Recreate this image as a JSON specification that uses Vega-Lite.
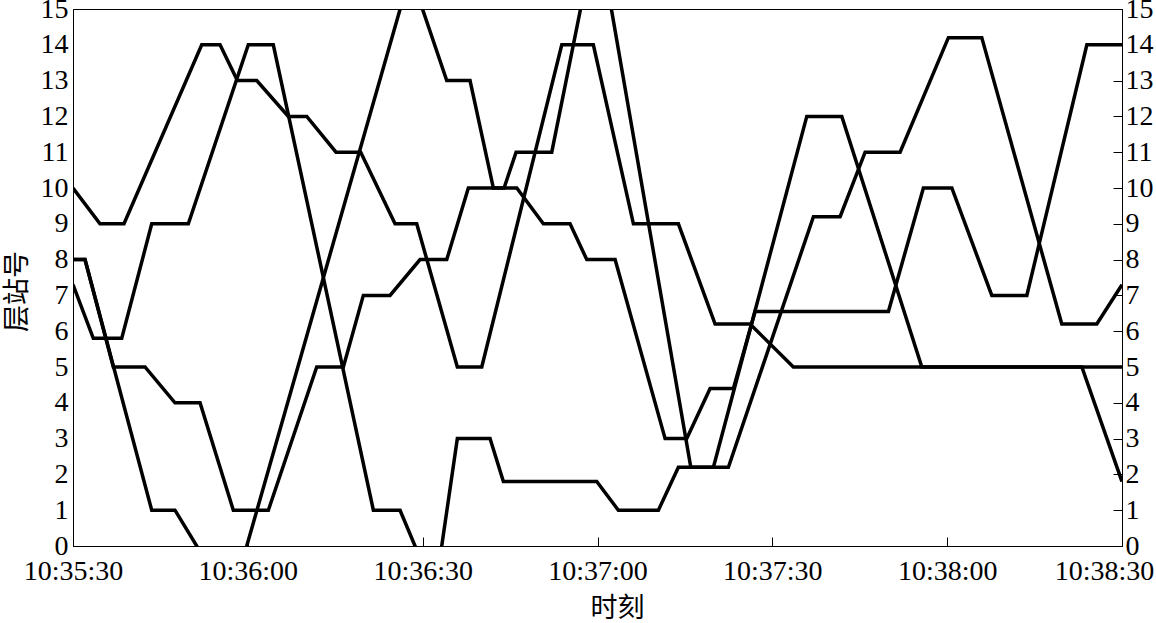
{
  "$schema": "https://vega.github.io/schema/vega-lite/v6.json",
  "width": 1049,
  "height": 537,
  "autosize": {"type": "none"},
  "padding": {"left": 73, "top": 9, "right": 34, "bottom": 77},
  "background": "white",
  "config": {
    "view": {"stroke": "black", "strokeWidth": 1},
    "axis": {
      "domainColor": "black",
      "tickColor": "black",
      "labelColor": "black",
      "titleColor": "black",
      "labelFont": "Liberation Serif",
      "labelFontSize": 28,
      "titleFont": "Noto Sans CJK SC",
      "titleFontSize": 27,
      "titleFontWeight": "normal",
      "grid": false,
      "labelOverlap": false,
      "labelBound": false,
      "labelFlush": false
    }
  },
  "data": {
    "values": [
      {"car": "A", "t": 0, "floor": 10},
      {"car": "A", "t": 4.63, "floor": 9},
      {"car": "A", "t": 8.75, "floor": 9},
      {"car": "A", "t": 22.09, "floor": 14},
      {"car": "A", "t": 25.23, "floor": 14},
      {"car": "A", "t": 28.2, "floor": 13},
      {"car": "A", "t": 31.53, "floor": 13},
      {"car": "A", "t": 36.95, "floor": 12},
      {"car": "A", "t": 40.11, "floor": 12},
      {"car": "A", "t": 45.13, "floor": 11},
      {"car": "A", "t": 49.37, "floor": 11},
      {"car": "A", "t": 55.26, "floor": 9},
      {"car": "A", "t": 58.98, "floor": 9},
      {"car": "A", "t": 65.95, "floor": 5},
      {"car": "A", "t": 70.14, "floor": 5},
      {"car": "A", "t": 83.87, "floor": 14},
      {"car": "A", "t": 89.29, "floor": 14},
      {"car": "A", "t": 96.16, "floor": 9},
      {"car": "A", "t": 103.88, "floor": 9},
      {"car": "A", "t": 110.18, "floor": 6.2},
      {"car": "A", "t": 116.18, "floor": 6.2},
      {"car": "A", "t": 123.61, "floor": 5},
      {"car": "A", "t": 173.11, "floor": 5},
      {"car": "A", "t": 180, "floor": 1.8},
      {"car": "B", "t": 0, "floor": 8},
      {"car": "B", "t": 2.06, "floor": 8},
      {"car": "B", "t": 6.92, "floor": 5},
      {"car": "B", "t": 12.36, "floor": 5},
      {"car": "B", "t": 17.5, "floor": 4},
      {"car": "B", "t": 21.8, "floor": 4},
      {"car": "B", "t": 27.51, "floor": 1},
      {"car": "B", "t": 33.52, "floor": 1},
      {"car": "B", "t": 41.82, "floor": 5},
      {"car": "B", "t": 46.39, "floor": 5},
      {"car": "B", "t": 49.82, "floor": 7},
      {"car": "B", "t": 54.4, "floor": 7},
      {"car": "B", "t": 59.55, "floor": 8},
      {"car": "B", "t": 64.13, "floor": 8},
      {"car": "B", "t": 67.84, "floor": 10},
      {"car": "B", "t": 73.97, "floor": 10},
      {"car": "B", "t": 76.03, "floor": 11},
      {"car": "B", "t": 82.15, "floor": 11},
      {"car": "B", "t": 89.93, "floor": 17.3},
      {"car": "B", "t": 106.01, "floor": 2.2},
      {"car": "B", "t": 112.46, "floor": 2.2},
      {"car": "B", "t": 127.05, "floor": 9.2},
      {"car": "B", "t": 131.63, "floor": 9.2},
      {"car": "B", "t": 135.92, "floor": 11},
      {"car": "B", "t": 141.92, "floor": 11},
      {"car": "B", "t": 150.21, "floor": 14.2},
      {"car": "B", "t": 155.94, "floor": 14.2},
      {"car": "B", "t": 169.67, "floor": 6.2},
      {"car": "B", "t": 175.68, "floor": 6.2},
      {"car": "B", "t": 180, "floor": 7.3},
      {"car": "C", "t": 0, "floor": 7.3},
      {"car": "C", "t": 3.48, "floor": 5.8},
      {"car": "C", "t": 8.36, "floor": 5.8},
      {"car": "C", "t": 13.51, "floor": 9},
      {"car": "C", "t": 19.79, "floor": 9},
      {"car": "C", "t": 30.08, "floor": 14},
      {"car": "C", "t": 34.37, "floor": 14},
      {"car": "C", "t": 51.54, "floor": 1},
      {"car": "C", "t": 56.12, "floor": 1},
      {"car": "C", "t": 58.69, "floor": 0},
      {"car": "C", "t": 61.22, "floor": -1},
      {"car": "C", "t": 62.4, "floor": -1},
      {"car": "C", "t": 63.27, "floor": 0},
      {"car": "C", "t": 65.95, "floor": 3},
      {"car": "C", "t": 71.56, "floor": 3},
      {"car": "C", "t": 73.85, "floor": 1.8},
      {"car": "C", "t": 89.87, "floor": 1.8},
      {"car": "C", "t": 93.58, "floor": 1},
      {"car": "C", "t": 100.45, "floor": 1},
      {"car": "C", "t": 103.88, "floor": 2.2},
      {"car": "C", "t": 109.89, "floor": 2.2},
      {"car": "C", "t": 125.91, "floor": 12},
      {"car": "C", "t": 131.92, "floor": 12},
      {"car": "C", "t": 145.65, "floor": 5},
      {"car": "C", "t": 180, "floor": 5},
      {"car": "D", "t": 0, "floor": 8},
      {"car": "D", "t": 2.06, "floor": 8},
      {"car": "D", "t": 13.51, "floor": 1},
      {"car": "D", "t": 17.5, "floor": 1},
      {"car": "D", "t": 21.23, "floor": 0},
      {"car": "D", "t": 24.88, "floor": -1},
      {"car": "D", "t": 28.06, "floor": -1},
      {"car": "D", "t": 29.81, "floor": 0},
      {"car": "D", "t": 57.89, "floor": 16},
      {"car": "D", "t": 64.13, "floor": 13},
      {"car": "D", "t": 68.13, "floor": 13},
      {"car": "D", "t": 72.13, "floor": 10},
      {"car": "D", "t": 76.15, "floor": 10},
      {"car": "D", "t": 80.71, "floor": 9},
      {"car": "D", "t": 85.29, "floor": 9},
      {"car": "D", "t": 88.16, "floor": 8},
      {"car": "D", "t": 93.02, "floor": 8},
      {"car": "D", "t": 101.6, "floor": 3},
      {"car": "D", "t": 105.32, "floor": 3},
      {"car": "D", "t": 109.32, "floor": 4.4},
      {"car": "D", "t": 113.32, "floor": 4.4},
      {"car": "D", "t": 117.04, "floor": 6.55},
      {"car": "D", "t": 139.92, "floor": 6.55},
      {"car": "D", "t": 145.92, "floor": 10},
      {"car": "D", "t": 150.8, "floor": 10},
      {"car": "D", "t": 157.66, "floor": 7},
      {"car": "D", "t": 163.67, "floor": 7},
      {"car": "D", "t": 173.97, "floor": 14},
      {"car": "D", "t": 180, "floor": 14}
    ]
  },
  "layer": [
    {
      "mark": {"type": "line", "color": "black", "strokeWidth": 3.5, "clip": true},
      "encoding": {
        "x": {
          "field": "t",
          "type": "quantitative",
          "scale": {"domain": [0, 180], "nice": false, "zero": false},
          "axis": {
            "values": [0, 30, 60, 90, 120, 150, 180],
            "labelExpr": "timeFormat(datetime(2000,0,1,10,35,30+datum.value),'%H:%M:%S')",
            "tickSize": -9,
            "labelPadding": 20,
            "labelOffset": {"condition": {"test": "datum.value === 180", "value": -18}, "value": 0},
            "title": "时刻",
            "titleX": 544,
            "titleY": 62,
            "titleAlign": "center",
            "titleBaseline": "middle"
          }
        },
        "y": {
          "field": "floor",
          "type": "quantitative",
          "scale": {"domain": [0, 15], "nice": false, "zero": false},
          "axis": {
            "orient": "left",
            "values": [0, 1, 2, 3, 4, 5, 6, 7, 8, 9, 10, 11, 12, 13, 14, 15],
            "ticks": false,
            "tickSize": 0,
            "labelPadding": 5,
            "title": "层站号",
            "titleX": -56,
            "titleY": 282,
            "titleAlign": "center",
            "titleBaseline": "middle",
            "titleAngle": 270
          }
        },
        "detail": {"field": "car", "type": "nominal"}
      }
    },
    {
      "mark": {"type": "line", "color": "black", "opacity": 0, "clip": true},
      "encoding": {
        "x": {"field": "t", "type": "quantitative"},
        "y": {
          "field": "floor",
          "type": "quantitative",
          "axis": {
            "orient": "right",
            "values": [0, 1, 2, 3, 4, 5, 6, 7, 8, 9, 10, 11, 12, 13, 14, 15],
            "tickSize": -9,
            "labelPadding": 12,
            "title": null
          }
        },
        "detail": {"field": "car", "type": "nominal"}
      }
    }
  ],
  "resolve": {"axis": {"y": "independent"}}
}
